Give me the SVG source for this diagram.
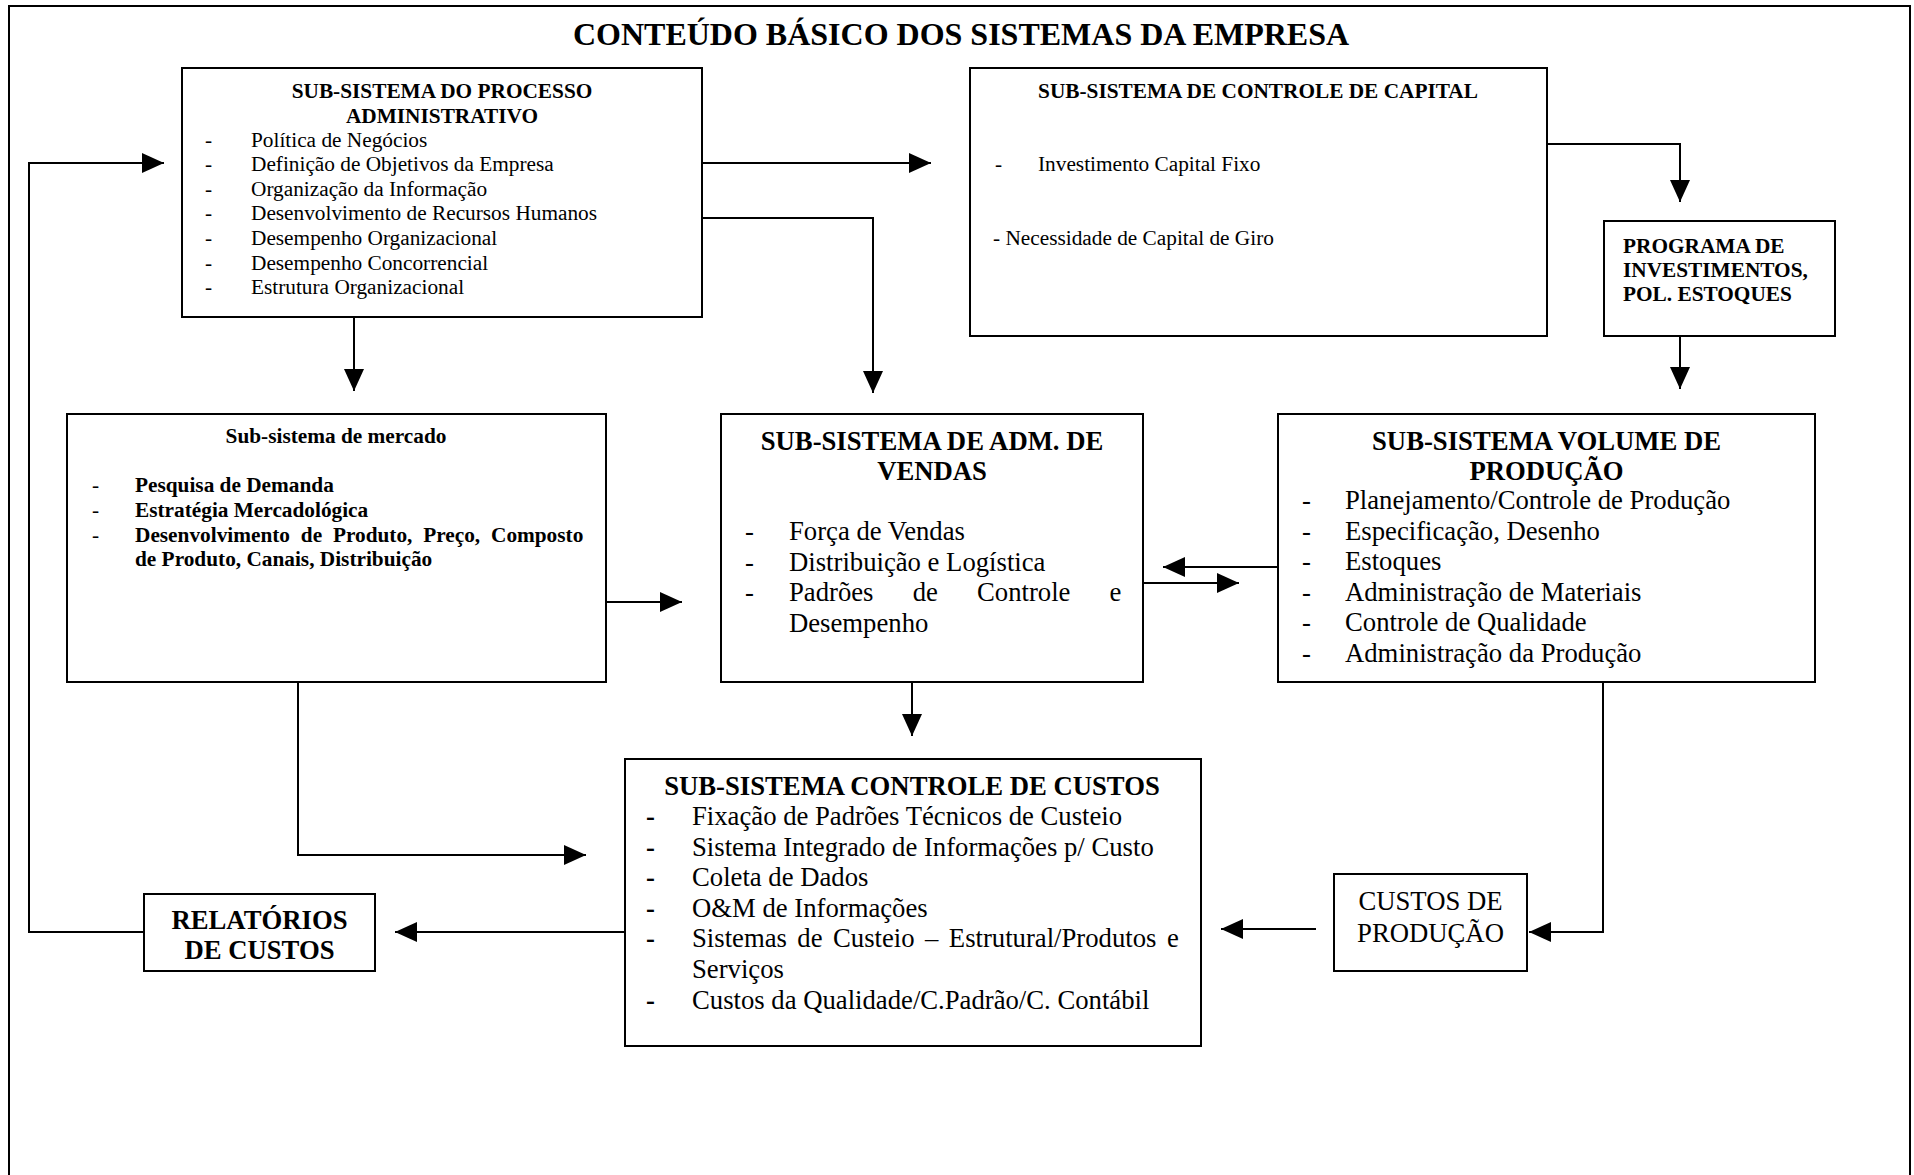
<svg xmlns="http://www.w3.org/2000/svg" width="1914" height="1175" viewBox="0 0 1914 1175">
<style>
text{font-family:"Liberation Serif","Times New Roman",serif;fill:#000}
.s{font-size:21.3px}
.l{font-size:26.7px}
.t{font-size:32px;font-weight:bold}
.b{font-weight:bold}
.c{text-anchor:middle}
.box{fill:#fff;stroke:#000;stroke-width:2}
.con{fill:none;stroke:#000;stroke-width:2}
</style>
<defs>
<marker id="ah" markerUnits="userSpaceOnUse" markerWidth="22" markerHeight="20" refX="22" refY="10" orient="auto" viewBox="0 0 22 20">
<path d="M0,0 L22,10 L0,20 z" fill="#000"/>
</marker>
</defs>
<rect x="0" y="0" width="1914" height="1175" fill="#fff"/>
<rect id="frame" x="9" y="6" width="1901" height="1200" fill="none" stroke="#000" stroke-width="2"/>
<text id="title" class="t c" x="961" y="45">CONTEÚDO BÁSICO DOS SISTEMAS DA EMPRESA</text>

<g id="connectors">
<path class="con" marker-end="url(#ah)" d="M702,163 L931,163"/>
<path class="con" marker-end="url(#ah)" d="M702,218 L873,218 L873,393"/>
<path class="con" marker-end="url(#ah)" d="M354,317 L354,391"/>
<path class="con" marker-end="url(#ah)" d="M1547,144 L1680,144 L1680,202"/>
<path class="con" marker-end="url(#ah)" d="M1680,336 L1680,389"/>
<path class="con" marker-end="url(#ah)" d="M606,602 L682,602"/>
<path class="con" marker-end="url(#ah)" d="M1278,567 L1163,567"/>
<path class="con" marker-end="url(#ah)" d="M1143,583 L1239,583"/>
<path class="con" marker-end="url(#ah)" d="M912,683 L912,736"/>
<path class="con" marker-end="url(#ah)" d="M298,683 L298,855 L586,855"/>
<path class="con" marker-end="url(#ah)" d="M1603,683 L1603,932 L1529,932"/>
<path class="con" marker-end="url(#ah)" d="M1316,929 L1221,929"/>
<path class="con" marker-end="url(#ah)" d="M625,932 L395,932"/>
<path class="con" marker-end="url(#ah)" d="M144,932 L29,932 L29,163 L164,163"/>
</g>

<g id="processo-administrativo">
<rect class="box" x="182" y="68" width="520" height="249"/>
<text class="s b c" x="442" y="98">SUB-SISTEMA DO PROCESSO</text>
<text class="s b c" x="442" y="123">ADMINISTRATIVO</text>
<g class="s">
<text class="s" x="205" y="146.5">-</text><text class="s" x="251" y="146.5">Política de Negócios</text>
<text class="s" x="205" y="171">-</text><text class="s" x="251" y="171">Definição de Objetivos da Empresa</text>
<text class="s" x="205" y="195.7">-</text><text class="s" x="251" y="195.7">Organização da Informação</text>
<text class="s" x="205" y="220.3">-</text><text class="s" x="251" y="220.3">Desenvolvimento de Recursos Humanos</text>
<text class="s" x="205" y="244.9">-</text><text class="s" x="251" y="244.9">Desempenho Organizacional</text>
<text class="s" x="205" y="269.5">-</text><text class="s" x="251" y="269.5">Desempenho Concorrencial</text>
<text class="s" x="205" y="294.1">-</text><text class="s" x="251" y="294.1">Estrutura Organizacional</text>
</g>
</g>

<g id="controle-capital">
<rect class="box" x="970" y="68" width="577" height="268"/>
<text class="s b c" x="1258" y="98">SUB-SISTEMA DE CONTROLE DE CAPITAL</text>
<text class="s" x="995" y="171">-</text><text class="s" x="1038" y="171">Investimento Capital Fixo</text>
<text class="s" x="993" y="245">- Necessidade de Capital de Giro</text>
</g>

<g id="programa-investimentos">
<rect class="box" x="1604" y="221" width="231" height="115"/>
<text class="s b" x="1623" y="253">PROGRAMA DE</text>
<text class="s b" x="1623" y="277">INVESTIMENTOS,</text>
<text class="s b" x="1623" y="301">POL. ESTOQUES</text>
</g>

<g id="mercado">
<rect class="box" x="67" y="414" width="539" height="268"/>
<text class="s b c" x="336" y="443">Sub-sistema de mercado</text>
<text class="s" x="92" y="492.3">-</text><text class="s b" x="135" y="492.3">Pesquisa de Demanda</text>
<text class="s" x="92" y="517">-</text><text class="s b" x="135" y="517">Estratégia Mercadológica</text>
<text class="s" x="92" y="541.7">-</text><text class="s b" x="135" y="541.7" word-spacing="5.5">Desenvolvimento de Produto, Preço, Composto</text>
<text class="s b" x="135" y="566.4">de Produto, Canais, Distribuição</text>
</g>

<g id="adm-vendas">
<rect class="box" x="721" y="414" width="422" height="268"/>
<text class="l b c" x="932" y="449.5">SUB-SISTEMA DE ADM. DE</text>
<text class="l b c" x="932" y="479.5">VENDAS</text>
<text class="l" x="745" y="540">-</text><text class="l" x="789" y="540">Força de Vendas</text>
<text class="l" x="745" y="570.5">-</text><text class="l" x="789" y="570.5">Distribuição e Logística</text>
<text class="l" x="745" y="601">-</text><text class="l" x="789" y="601" word-spacing="32.5">Padrões de Controle e</text>
<text class="l" x="789" y="631.5">Desempenho</text>
</g>

<g id="volume-producao">
<rect class="box" x="1278" y="414" width="537" height="268"/>
<text class="l b c" x="1546.5" y="449.5">SUB-SISTEMA VOLUME DE</text>
<text class="l b c" x="1546.5" y="479.5">PRODUÇÃO</text>
<text class="l" x="1302" y="509">-</text><text class="l" x="1345" y="509">Planejamento/Controle de Produção</text>
<text class="l" x="1302" y="539.5">-</text><text class="l" x="1345" y="539.5">Especificação, Desenho</text>
<text class="l" x="1302" y="570">-</text><text class="l" x="1345" y="570">Estoques</text>
<text class="l" x="1302" y="600.5">-</text><text class="l" x="1345" y="600.5">Administração de Materiais</text>
<text class="l" x="1302" y="631">-</text><text class="l" x="1345" y="631">Controle de Qualidade</text>
<text class="l" x="1302" y="661.5">-</text><text class="l" x="1345" y="661.5">Administração da Produção</text>
</g>

<g id="controle-custos">
<rect class="box" x="625" y="759" width="576" height="287"/>
<text class="l b c" x="912" y="795">SUB-SISTEMA CONTROLE DE CUSTOS</text>
<text class="l b" x="646" y="825">-</text><text class="l" x="692" y="825">Fixação de Padrões Técnicos de Custeio</text>
<text class="l b" x="646" y="855.5">-</text><text class="l" x="692" y="855.5">Sistema Integrado de Informações p/ Custo</text>
<text class="l b" x="646" y="886">-</text><text class="l" x="692" y="886">Coleta de Dados</text>
<text class="l b" x="646" y="916.5">-</text><text class="l" x="692" y="916.5">O&amp;M de Informações</text>
<text class="l b" x="646" y="947">-</text><text class="l" x="692" y="947" word-spacing="3.8">Sistemas de Custeio – Estrutural/Produtos e</text>
<text class="l" x="692" y="977.5">Serviços</text>
<text class="l b" x="646" y="1009">-</text><text class="l" x="692" y="1009">Custos da Qualidade/C.Padrão/C. Contábil</text>
</g>

<g id="relatorios-custos">
<rect class="box" x="144" y="894" width="231" height="77"/>
<text class="l b c" x="259.5" y="928.5">RELATÓRIOS</text>
<text class="l b c" x="259.5" y="959">DE CUSTOS</text>
</g>

<g id="custos-producao">
<rect class="box" x="1334" y="874" width="193" height="97"/>
<text class="l c" x="1430.5" y="910">CUSTOS DE</text>
<text class="l c" x="1430.5" y="941.5">PRODUÇÃO</text>
</g>
</svg>
